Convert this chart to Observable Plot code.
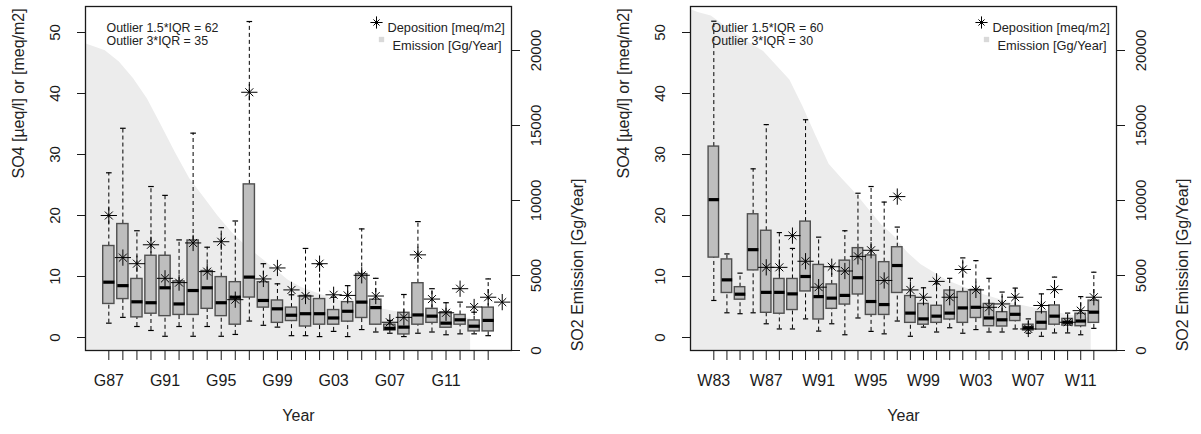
<!DOCTYPE html>
<html><head><meta charset="utf-8">
<script src="https://cdn.jsdelivr.net/npm/d3@7"></script>
<script src="https://cdn.jsdelivr.net/npm/@observablehq/plot@0.6"></script>
<style>
body{margin:0;background:#fff;}
#wrap{display:flex;width:1201px;height:434px;overflow:hidden;}
</style></head><body><div id="wrap"></div>
<script>
// ---------- Left panel (G) ----------
const catsG = ["G87","G88","G89","G90","G91","G92","G93","G94","G95","G96","G97","G98","G99","G00","G01","G02","G03","G04","G05","G06","G07","G08","G09","G10","G11","G12","G13","G14"];
const lowG  = [2.35,3.3,1.8,1.15,0.2,1.8,0.2,1.8,0.2,0.5,2.7,2.0,1.7,0.3,0.3,0.15,1.0,0.15,1.3,0.9,0.7,0.15,0.7,0.9,0.45,0.6,0.6,0.3];
const q1G   = [5.5,6.3,3.3,3.9,3.5,3.7,3.7,4.7,3.5,2.1,6.55,4.9,2.4,2.7,1.8,2.1,2.1,2.6,3.2,2.1,1.15,0.5,2.1,2.4,1.6,2.1,1.0,1.0];
const medG  = [9.07,8.5,5.85,5.7,8.15,5.5,7.7,8.15,5.7,6.6,9.9,6.07,4.7,3.65,3.9,3.9,3.2,4.3,5.8,4.9,1.5,1.7,3.7,3.5,2.35,2.9,1.85,2.8];
const q3G   = [15.0,18.6,9.6,13.4,13.4,9.2,15.9,10.9,9.9,9.07,25.1,9.07,6.07,4.9,6.8,6.3,4.5,5.8,10.4,6.2,2.1,4.05,8.9,4.7,4.15,3.7,2.8,4.9];
const highG = [27.0,34.3,17.5,24.75,23.3,16.0,33.5,14.8,18.0,19.1,51.8,12.1,8.8,7.0,14.6,12.0,6.6,8.5,17.8,9.7,2.8,7.05,19.0,8.0,5.7,5.8,4.15,9.6];
const depG  = [20.0,13.1,12.1,15.2,9.7,9.0,15.5,10.8,15.7,6.2,40.2,9.6,11.4,7.8,6.8,12.1,7.0,6.9,10.2,6.8,2.5,3.3,13.55,6.3,4.05,8.0,5.0,6.6,5.8];
const emYearsG = d3.range(1984, 2013);
const emG = [20640,20310,19990,19230,18140,16770,14980,13170,11460,10230,8990,7880,6970,6230,5480,4700,4180,3850,3520,3240,3040,2870,2710,2540,2380,2260,2230,2180,2150];

// ---------- Right panel (W) ----------
const catsW = ["W83","W84","W85","W86","W87","W88","W89","W90","W91","W92","W93","W94","W95","W96","W97","W98","W99","W00","W01","W02","W03","W04","W05","W06","W07","W08","W09","W10","W11","W12"];
const lowW  = [6.07,4.05,3.9,4.05,2.25,1.4,1.4,3.05,1.05,2.25,0.45,3.2,1.0,0.6,2.7,0.2,1.7,0.9,1.6,0.7,1.3,0.9,0.9,1.4,0.7,0.2,0.75,0.75,0.45,1.5];
const q1W   = [13.1,7.3,6.2,11.0,4.05,3.9,4.5,7.55,2.95,4.7,5.4,7.05,3.7,3.7,7.3,2.4,2.1,2.4,2.95,2.4,3.2,1.85,1.8,2.7,1.15,1.3,2.1,1.95,1.85,2.4];
const medW  = [22.6,9.45,7.1,14.4,7.4,7.4,7.15,10.0,6.7,6.45,6.9,9.8,5.9,5.4,11.8,4.0,3.05,3.5,4.0,4.85,4.95,3.2,2.9,3.8,1.6,2.5,3.5,2.5,2.7,4.15];
const q3W   = [31.3,12.8,8.25,20.2,17.5,9.6,9.6,19.0,11.9,8.7,12.6,14.65,13.45,12.35,14.8,6.8,5.5,5.2,7.7,7.45,7.8,5.5,4.15,5.1,2.1,4.15,5.25,3.05,3.9,6.05];
const highW = [51.85,13.7,10.55,27.65,34.9,17.2,14.6,35.7,16.45,11.6,17.5,23.65,24.75,22.2,18.1,9.7,8.15,8.8,9.7,13.05,12.6,9.7,7.45,8.1,3.05,7.15,9.9,4.0,6.7,10.7];
const depW  = [null,null,null,null,11.5,11.5,16.7,12.5,8.25,11.6,10.9,13.3,14.3,9.35,23.1,7.8,6.6,9.2,6.6,11.15,7.8,4.95,5.5,6.6,1.4,5.25,7.85,2.5,4.4,6.6];
const emYearsW = d3.range(1981, 2013);
const emW = [22890,22530,22300,21670,21040,20470,19930,18990,18040,16270,14300,12410,11440,10500,9440,8380,7580,6520,5730,5200,4670,4320,3970,3660,3400,3140,2950,2770,2600,2420,2250,2150];

const yTicks = [0,10,20,30,40,50];
const emTicks = [0,5000,10000,15000,20000];
const yTitle = "SO4 [µeq/l] or [meq/m2]";
const y2Title = "SO2 Emission [Gg/Year]";
const xTitle = "Year";
const legDep = "Deposition [meq/m2]";
const legEm = "Emission [Gg/Year]";

const FONT = '"Liberation Sans", Arial, Helvetica, sans-serif';
const yDom = [-13/6.1, 331/6.1];          // SO4 axis
const emPerUnit = 6.1/0.015;                // emission units per SO4 unit
const eToY = e => yDom[0] + e/emPerUnit;
const yToE = v => Math.round((v - yDom[0]) * emPerUnit);

function panel(cfg) {
  const boxes = cfg.cats.map((c,i) => ({i, low: cfg.low[i], q1: cfg.q1[i], med: cfg.med[i], q3: cfg.q3[i], high: cfg.high[i]}));
  const deps = cfg.dep.map((v,i) => ({i, v})).filter(d => d.v != null);
  const em = cfg.emYears.map((yr,k) => ({x: yr - cfg.startYear + cfg.emShift, e: eToY(cfg.em[k])}));
  const bw = 0.8, cw = 0.4;
  return Plot.plot({
    width: cfg.width, height: 434,
    marginLeft: cfg.mL, marginRight: cfg.mR, marginTop: 6, marginBottom: 84,
    style: {fontFamily: FONT, fontSize: "15px", color: "#1a1a1a", background: "transparent", overflow: "visible"},
    x: {domain: cfg.xDomain, axis: null},
    y: {domain: yDom, axis: null},
    marks: [
      Plot.areaY(em, {x: "x", y1: yDom[0], y2: "e", fill: "#ececec", clip: true}),
      Plot.ruleX(boxes, {x: "i", y1: "q3", y2: "high", stroke: "#000", strokeWidth: 1, strokeDasharray: "4,3"}),
      Plot.ruleX(boxes, {x: "i", y1: "low", y2: "q1", stroke: "#000", strokeWidth: 1, strokeDasharray: "4,3"}),
      Plot.link(boxes, {x1: d => d.i - cw/2, x2: d => d.i + cw/2, y1: "high", y2: "high", stroke: "#000", strokeWidth: 1.2}),
      Plot.link(boxes, {x1: d => d.i - cw/2, x2: d => d.i + cw/2, y1: "low", y2: "low", stroke: "#000", strokeWidth: 1.2}),
      Plot.rect(boxes, {x1: d => d.i - bw/2, x2: d => d.i + bw/2, y1: "q1", y2: "q3", fill: "#bebebe", stroke: "#505050", strokeWidth: 1.4}),
      Plot.link(boxes, {x1: d => d.i - bw/2, x2: d => d.i + bw/2, y1: "med", y2: "med", stroke: "#000", strokeWidth: 3.2}),
      Plot.dot(deps, {x: "i", y: "v", symbol: "plus", r: 5.3, stroke: "#000", strokeWidth: 1}),
      Plot.dot(deps, {x: "i", y: "v", symbol: "times", r: 3.7, stroke: "#000", strokeWidth: 1}),
      Plot.frame({stroke: "#1a1a1a", strokeWidth: 1.3}),
      Plot.axisX(d3.range(cfg.cats.length), {anchor: "bottom", tickSize: 10, tickPadding: 14, fontSize: 16,
        tickFormat: i => i % 4 === 0 ? cfg.cats[i] : "", label: null}),
      Plot.axisY(yTicks, {anchor: "left", tickSize: 8, tickPadding: 17.5, tickRotate: -90, fontSize: 15, label: null}),
      Plot.axisY(emTicks.map(eToY), {anchor: "right", tickSize: 8, tickPadding: 11, tickRotate: -90, lineAnchor: "top",
        fontSize: 15, tickFormat: v => String(yToE(v)), label: null}),
      Plot.text([yTitle], {frameAnchor: "left", dx: -67, rotate: -90, fontSize: 16, fill: "#222"}),
      Plot.text([y2Title], {frameAnchor: "right", dx: 66, rotate: -90, fontSize: 16, fill: "#222"}),
      Plot.text([xTitle], {frameAnchor: "bottom", dy: 70, fontSize: 16, fill: "#222"}),
      Plot.text([`Outlier 1.5*IQR = ${cfg.out15}`], {frameAnchor: "top-left", dx: 21, dy: 16.5, textAnchor: "start", fontSize: 12.4, fill: "#222"}),
      Plot.text([`Outlier 3*IQR = ${cfg.out3}`], {frameAnchor: "top-left", dx: 21, dy: 29.5, textAnchor: "start", fontSize: 12.4, fill: "#222"}),
      Plot.dot([0], {frameAnchor: "top-right", dx: -135, dy: 16, symbol: "plus", r: 4, stroke: "#000", strokeWidth: 1}),
      Plot.dot([0], {frameAnchor: "top-right", dx: -135, dy: 16, symbol: "times", r: 2.9, stroke: "#000", strokeWidth: 1}),
      Plot.text([legDep], {frameAnchor: "top-right", dx: -124, dy: 16.5, textAnchor: "start", fontSize: 12.8, fill: "#222"}),
      Plot.dot([0], {frameAnchor: "top-right", dx: -130, dy: 33, symbol: "square", r: 3, fill: "#d9d9d9"}),
      Plot.text([legEm], {frameAnchor: "top-right", dx: -119, dy: 34.5, textAnchor: "start", fontSize: 12.8, fill: "#222"})
    ]
  });
}

const wrap = document.getElementById("wrap");
wrap.appendChild(panel({cats: catsG, low: lowG, q1: q1G, med: medG, q3: q3G, high: highG, dep: depG,
  emYears: emYearsG, em: emG, startYear: 1987, emShift: 0.75, out15: 62, out3: 35,
  width: 600, mL: 85, mR: 89, xDomain: [-1.66, 28.66]}));
wrap.appendChild(panel({cats: catsW, low: lowW, q1: q1W, med: medW, q3: q3W, high: highW, dep: depW,
  emYears: emYearsW, em: emW, startYear: 1983, emShift: -0.2, out15: 60, out3: 30,
  width: 601, mL: 90, mR: 85, xDomain: [-1.78, 30.73]}));
</script></body></html>
